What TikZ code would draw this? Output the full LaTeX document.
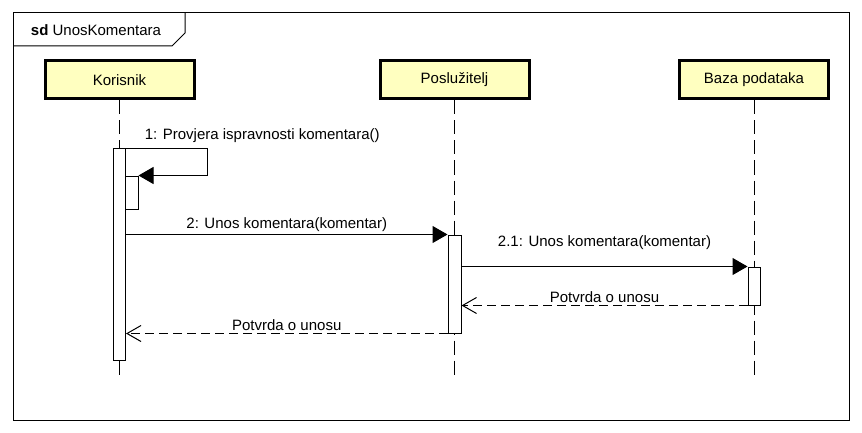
\documentclass[tikz,border=0pt]{standalone}
\usepackage{fontspec}
\setmainfont{Liberation Sans}
\usetikzlibrary{arrows.meta}
\definecolor{lifebox}{RGB}{255,255,192}

\begin{document}
\begin{tikzpicture}[x=1pt,y=-1pt,
	font=\fontsize{15}{18}\selectfont,
	actor/.style={draw=black,line width=3pt,fill=lifebox,minimum width=149pt,minimum height=38pt,inner sep=0pt},
	bar/.style={draw=black,line width=1pt,fill=white,inner sep=0pt,minimum width=12pt},
	lifeline/.style={line width=1pt,dash pattern=on 14pt off 6pt},
	call/.style={line width=1pt,-{Triangle[length=15pt,width=17pt]}},
	reply/.style={line width=1pt,dash pattern=on 9pt off 5pt,-{Straight Barb[length=14pt,width=16pt]}},
	lbl/.style={above,inner sep=2pt}]
	\useasboundingbox (0,0) rectangle (862,433);

	% frame
	\draw[line width=1pt] (13,13) rectangle (849,420);
	\draw[line width=1pt] (13,46) -- (172,46) -- (185,33) -- (185,13);
	\node (title) at (96,30) {\textbf{sd} UnosKomentara};

	% participants
	\node[actor] (kor) at (119.5,80)     {Korisnik};
	\node[actor] (pos) at (454.5,80)     {Poslužitelj};
	\node[actor] (baza) at (754,80)     {Baza podataka};

	\coordinate (korend) at (119.5,380);
	\coordinate (posend) at (454.5,380);
	\coordinate (bazaend) at (754,380);

	\draw[lifeline] (kor) -- (korend);
	\draw[lifeline] (pos) -- (posend);
	\draw[lifeline] (baza) -- (bazaend);

	% activations
	\node[bar,minimum height=211pt] (korbar) at (119.5,254.5) {};
	\node[bar,minimum width=13pt,minimum height=33pt] (provbar) at (131.5,192.5) {};
	\node[bar,minimum width=13pt,minimum height=98pt] (posbar) at (454.5,284) {};
	\node[bar,minimum height=38pt] (bazabar) at (754,286) {};

	% messages
	\draw[call] (korbar.north east) node[anchor=south west,xshift=15pt,yshift=2pt]{1: Provjera ispravnosti komentara()}
		-- ++(81,0) |- (provbar.north east);
	\path[call] (korbar.east |- posbar.north) edge node[lbl]{2: Unos komentara(komentar)} (posbar.north west);
	\path[call] (posbar.east |- bazabar.north) edge node[lbl,above=14pt]{2.1: Unos komentara(komentar)} (bazabar.north west);
	\path[reply] (bazabar.south west) edge node[lbl]{Potvrda o unosu} (posbar.east |- bazabar.south);
	\path[reply] (posbar.south west) edge node[lbl]{Potvrda o unosu} (korbar.east |- posbar.south);

\end{tikzpicture}
\end{document}
